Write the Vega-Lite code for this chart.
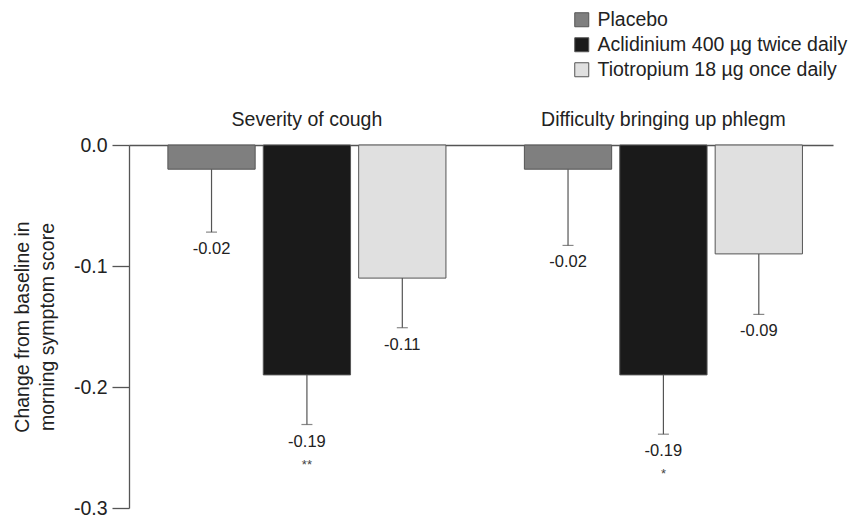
{
  "$schema": "https://vega.github.io/schema/vega-lite/v6.json",
  "autosize": {"type": "none"},
  "padding": {"left": 129, "top": 145, "right": 21, "bottom": 11},
  "width": 704,
  "height": 363,
  "background": "white",
  "config": {
    "view": {"stroke": null},
    "font": "Liberation Sans",
    "axis": {"labelFont": "Liberation Sans", "titleFont": "Liberation Sans"},
    "legend": {"labelFont": "Liberation Sans"}
  },
  "data": {
    "values": [
      {"measure": "Severity of cough", "treatment": "Placebo", "value": -0.02, "lower": -0.072, "label": "-0.02", "sig": ""},
      {"measure": "Severity of cough", "treatment": "Aclidinium 400 µg twice daily", "value": -0.19, "lower": -0.231, "label": "-0.19", "sig": "**"},
      {"measure": "Severity of cough", "treatment": "Tiotropium 18 µg once daily", "value": -0.11, "lower": -0.151, "label": "-0.11", "sig": ""},
      {"measure": "Difficulty bringing up phlegm", "treatment": "Placebo", "value": -0.02, "lower": -0.083, "label": "-0.02", "sig": ""},
      {"measure": "Difficulty bringing up phlegm", "treatment": "Aclidinium 400 µg twice daily", "value": -0.19, "lower": -0.239, "label": "-0.19", "sig": "*"},
      {"measure": "Difficulty bringing up phlegm", "treatment": "Tiotropium 18 µg once daily", "value": -0.09, "lower": -0.140, "label": "-0.09", "sig": ""}
    ]
  },
  "encoding": {
    "x": {
      "field": "measure", "type": "nominal",
      "sort": ["Severity of cough", "Difficulty bringing up phlegm"],
      "scale": {"paddingInner": 0.22, "paddingOuter": 0.0974, "align": 0.56},
      "axis": {"orient": "top", "title": null, "labelAngle": 0, "ticks": false, "labelFontSize": 19.5, "labelColor": "#222", "labelPadding": 16, "labelLimit": 0, "domainColor": "#555", "domainWidth": 1.3}
    },
    "xOffset": {
      "field": "treatment", "type": "nominal",
      "sort": ["Placebo", "Aclidinium 400 µg twice daily", "Tiotropium 18 µg once daily"],
      "scale": {"paddingInner": 0.085, "paddingOuter": 0}
    }
  },
  "layer": [
    {
      "mark": {"type": "bar", "stroke": "#555", "strokeWidth": 1},
      "encoding": {
        "y": {
          "field": "value", "type": "quantitative",
          "scale": {"domain": [-0.3, 0], "nice": false, "zero": false},
          "axis": {
            "values": [0, -0.1, -0.2, -0.3],
            "labelExpr": "replace(format(datum.value, '.1f'), '\u2212', '-')",
            "title": ["Change from baseline in", "morning symptom score"],
            "titleFontSize": 19.5, "titleFontWeight": "normal", "titleColor": "#222", "titlePadding": 16, "titleLineHeight": 25,
            "labelFontSize": 19.5, "labelColor": "#222", "labelPadding": 5,
            "tickSize": 17, "tickColor": "#555", "domainColor": "#555", "domainWidth": 1.3, "tickWidth": 1.3,
            "grid": false
          }
        },
        "y2": {"datum": 0},
        "fill": {
          "field": "treatment", "type": "nominal",
          "sort": ["Placebo", "Aclidinium 400 µg twice daily", "Tiotropium 18 µg once daily"],
          "scale": {"domain": ["Placebo", "Aclidinium 400 µg twice daily", "Tiotropium 18 µg once daily"], "range": ["#7f7f7f", "#1a1a1a", "#e0e0e0"]},
          "legend": {
            "orient": "none", "legendX": 443, "legendY": -135, "title": null,
            "symbolType": "square", "symbolSize": 196, "symbolStrokeColor": "#555", "symbolStrokeWidth": 1,
            "labelFontSize": 19.5, "labelColor": "#222", "rowPadding": 4, "labelOffset": 6, "labelLimit": 0
          }
        }
      }
    },
    {
      "mark": {"type": "rule", "color": "#555", "strokeWidth": 1.2},
      "encoding": {
        "y": {"field": "value", "type": "quantitative"},
        "y2": {"field": "lower"}
      }
    },
    {
      "mark": {"type": "tick", "orient": "horizontal", "color": "#555", "size": 11, "thickness": 1.2},
      "encoding": {
        "y": {"field": "lower", "type": "quantitative"}
      }
    },
    {
      "mark": {"type": "text", "baseline": "top", "dy": 9, "fontSize": 16.5, "color": "#222"},
      "encoding": {
        "y": {"field": "lower", "type": "quantitative"},
        "text": {"field": "label"}
      }
    },
    {
      "mark": {"type": "text", "baseline": "top", "dy": 34, "fontSize": 13, "color": "#444"},
      "encoding": {
        "y": {"field": "lower", "type": "quantitative"},
        "text": {"field": "sig"}
      }
    }
  ]
}
